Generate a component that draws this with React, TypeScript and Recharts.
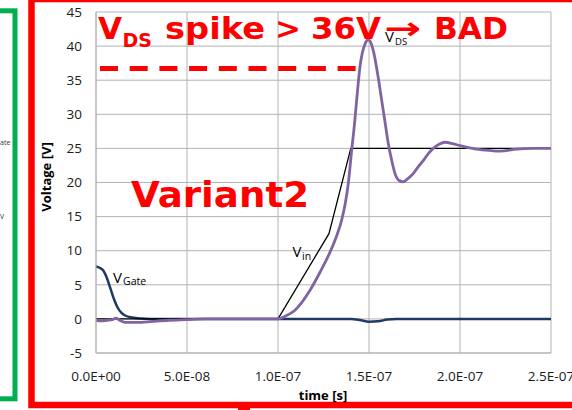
import React from "react";
import { LineChart, Line, XAxis, YAxis, CartesianGrid, ReferenceLine } from "recharts";

// time in ns
const xTicks = [0, 50, 100, 150, 200, 250];
const xTickLabels = ["0.0E+00", "5.0E-08", "1.0E-07", "1.5E-07", "2.0E-07", "2.5E-07"];
const yTicks = [-5, 0, 5, 10, 15, 20, 25, 30, 35, 40, 45];

const gateT = [0, 2, 4, 6, 8, 10, 12, 14, 16, 20, 25, 30, 60, 100, 140, 145, 150, 155, 160, 165, 250];
const gateV = [7.7, 7.5, 7.1, 6.0, 4.4, 2.8, 1.6, 0.9, 0.5, 0.2, 0.05, 0, 0, 0, 0, -0.15, -0.4, -0.35, -0.1, 0, 0];

const vinT = [0, 100, 128, 140, 250];
const vinV = [0, 0, 12.5, 25, 25];

const vdsT = [0, 3, 6, 9, 11, 13, 16, 20, 25, 30, 40, 50, 60, 100, 104, 109, 113, 117.6, 123, 128.6, 132, 135, 137, 138.6, 140.5, 142, 143.2, 145, 147.8, 149.6, 151, 152.4, 155, 157, 159, 160.6, 162.5, 164.3, 166.5, 168.9, 171.5, 174.3, 177, 179.8, 182.5, 185.3, 188.5, 191.8, 196, 200, 209, 216, 222, 231, 240, 250];
const vdsV = [-0.2, -0.3, -0.2, -0.1, 0.1, -0.2, -0.5, -0.5, -0.5, -0.4, -0.2, -0.1, 0, 0, 0.4, 1.2, 2.4, 4.2, 6.8, 9.8, 12, 14.5, 17, 19.8, 24.8, 28.5, 32, 36.9, 40.3, 40.9, 40.5, 39.3, 35.5, 32, 28.5, 25.7, 23.2, 21.3, 20.3, 20.1, 20.6, 21.3, 22.3, 23.2, 24.2, 25.0, 25.6, 25.9, 25.7, 25.4, 24.9, 24.7, 24.6, 24.9, 25, 25];

const toPoints = (ts: number[], vs: number[]) => ts.map((t, i) => ({ t, v: vs[i] }));

const gateData = toPoints(gateT, gateV);
const vinData = toPoints(vinT, vinV);
const vdsData = toPoints(vdsT, vdsV);

const RED = "#ff0000";
const tickStyle = { fill: "#1a1a1a", fontSize: 13.5, fontFamily: "Open Sans" };

export default function App() {
    return (
        <div style={{ position: "absolute", left: 0, top: 0, width: 572, height: 410, background: "#fff", overflow: "hidden" }}>
            <LineChart
                width={572}
                height={410}
                margin={{ top: 12, right: 21, left: 0, bottom: 0 }}
                style={{ position: "absolute", left: 0, top: 0 }}
            >
                <CartesianGrid stroke="#b3b3b3" strokeWidth={1} />
                <XAxis
                    type="number"
                    dataKey="t"
                    domain={[0, 250]}
                    ticks={xTicks}
                    interval={0}
                    height={57}
                    tickLine={false}
                    axisLine={{ stroke: "#b3b3b3" }}
                    tickMargin={12}
                    tick={tickStyle}
                    tickFormatter={(v: number) => xTickLabels[xTicks.indexOf(v)]}
                    allowDuplicatedCategory={false}
                />
                <YAxis
                    type="number"
                    domain={[-5, 45]}
                    ticks={yTicks}
                    interval={0}
                    width={96}
                    tickLine={false}
                    axisLine={{ stroke: "#b3b3b3" }}
                    tickMargin={8}
                    tick={tickStyle}
                />
                <ReferenceLine
                    segment={[{ x: 2.2, y: 36.7 }, { x: 144.5, y: 36.7 }]}
                    stroke={RED}
                    strokeWidth={5}
                    strokeDasharray="18 11.7"
                />
                <Line data={gateData} dataKey="v" type="monotone" stroke="#203864" strokeWidth={2.5} dot={false} isAnimationActive={false} />
                <Line data={vinData} dataKey="v" type="linear" stroke="#000" strokeWidth={1.3} dot={false} isAnimationActive={false} />
                <Line data={vdsData} dataKey="v" type="monotone" stroke="#8064a2" strokeWidth={2.8} dot={false} isAnimationActive={false} />
            </LineChart>
            <svg width={572} height={410} style={{ position: "absolute", left: 0, top: 0, pointerEvents: "none" }}>
                {/* frames */}
                <rect x={-50} y={10.8} width={65} height={388} fill="none" stroke="#00b050" strokeWidth={5} />
                <rect x={31.5} y={-1} width={600} height={406} fill="none" stroke={RED} strokeWidth={6.5} />
                <rect x={238} y={405} width={12} height={5} fill={RED} />
                <text x={0} y={145} fontSize={7} fontFamily="Open Sans" fill="#333">ate</text>
                <text x={0} y={219} fontSize={7} fontFamily="Open Sans" fill="#333">V</text>

                {/* big red annotations */}
                <g fill={RED} fontFamily="DejaVu Sans" fontWeight="bold">
                    <text x={98} y={38.5} fontSize={31}>V</text>
                    <text x={122.5} y={46.5} fontSize={19}>DS</text>
                    <text x={165} y={38.5} fontSize={31} textLength={100} lengthAdjust="spacingAndGlyphs">spike</text>
                    <text x={275} y={38.5} fontSize={31}>&gt;</text>
                    <text x={311} y={38.5} fontSize={31} textLength={70} lengthAdjust="spacingAndGlyphs">36V</text>
                    <text x={384} y={38.5} fontSize={31} textLength={37} lengthAdjust="spacingAndGlyphs">→</text>
                    <text x={434} y={38.5} fontSize={31} textLength={74} lengthAdjust="spacingAndGlyphs">BAD</text>
                    <text x={131} y={207.3} fontSize={36} textLength={178} lengthAdjust="spacingAndGlyphs">Variant2</text>
                </g>

                {/* series labels */}
                <g fill="#000" fontFamily="Open Sans">
                    <text x={385} y={41.7} fontSize={15}>V</text>
                    <text x={395} y={44.5} fontSize={9.5}>DS</text>
                    <text x={292.5} y={256.7} fontSize={15}>V</text>
                    <text x={302} y={259.5} fontSize={10.5}>in</text>
                    <text x={113} y={282.7} fontSize={15}>V</text>
                    <text x={123} y={285} fontSize={10.5}>Gate</text>
                </g>

                {/* axis titles */}
                <text x={323} y={399.5} textAnchor="middle" fontFamily="Open Sans" fontWeight="bold" fontSize={13} fill="#000">time [s]</text>
                <text
                    x={0}
                    y={0}
                    transform="translate(51,177) rotate(-90)"
                    textAnchor="middle"
                    fontFamily="Open Sans"
                    fontWeight="bold"
                    fontSize={13}
                    fill="#000"
                >
                    Voltage [V]
                </text>
            </svg>
        </div>
    );
}
